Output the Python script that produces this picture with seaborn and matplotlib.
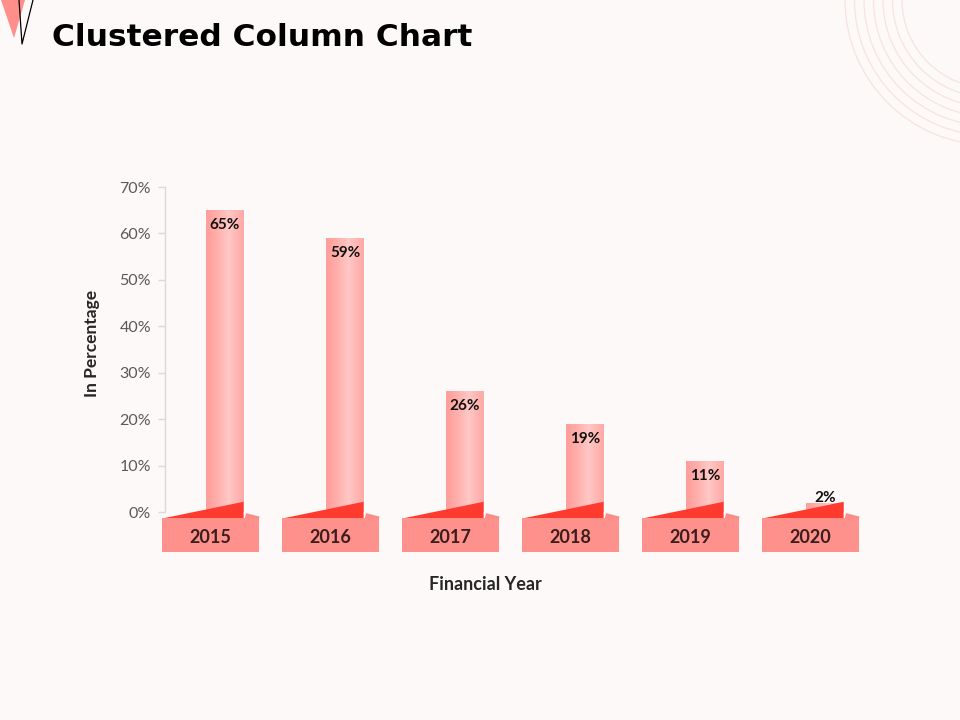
import numpy as np
import pandas as pd
import matplotlib
matplotlib.use("Agg")
import matplotlib.pyplot as plt
from matplotlib.patches import Polygon, Arc
from matplotlib.colors import to_rgb
import seaborn as sns

# ---- data ----
years = ["2015", "2016", "2017", "2018", "2019", "2020"]
values = [65, 59, 26, 19, 11, 2]
ytick_vals = [0, 10, 20, 30, 40, 50, 60, 70]

BG = "#FDF9F8"
sns.set_theme(style="white")
plt.rcParams['font.family'] = ['Lato', 'DejaVu Sans']

fig = plt.figure(figsize=(9.6, 7.2), dpi=100, facecolor=BG)
ax = fig.add_axes([165/960, (720-512)/720, 720/960, 325/720])
ax.set_facecolor(BG)

df = pd.DataFrame({"year": years, "value": values})
sns.barplot(data=df, x="year", y="value", color="#FFA9A5", width=0.31,
            saturation=1, ax=ax, zorder=2)

ax.set_ylim(0, 70)
ax.set_xlim(-0.5, 5.5)

# gradient on bars
c_edge = np.array(to_rgb("#FF9D99"))
c_hi = np.array(to_rgb("#FFC8C5"))
t = np.linspace(0, 1, 200)
w = np.clip(1 - np.abs(t - 0.6) / 0.6, 0, 1) ** 1.2
grad = (c_edge[None, :] * (1 - w[:, None]) + c_hi[None, :] * w[:, None])[None, :, :]
for p in list(ax.patches):
    x0, y0 = p.get_x(), p.get_y()
    im = ax.imshow(grad, extent=[x0, x0 + p.get_width(), y0, y0 + p.get_height()],
                   aspect="auto", zorder=2.5, interpolation="bilinear")
    im.set_clip_path(p)
ax.set_ylim(0, 70)
ax.set_xlim(-0.5, 5.5)

# value labels
for i, v in enumerate(values):
    ypos = v - 3.2 if v >= 5 else v + 1.0
    ax.text(i, ypos, f"{v}%", ha="center", va="center", fontsize=11,
            fontweight="bold", color="#111111", zorder=5)

# ribbons under each column
half = 0.31 / 2
for i, yr in enumerate(years):
    br = i + half
    rl = i - 0.529
    rr = i + 0.287
    top, bot = -1.3, -8.7
    rect = Polygon([(rl, top), (rr, top), (rr, bot), (rl, bot)], closed=True,
                   facecolor="#FF918D", edgecolor="none", clip_on=False, zorder=3)
    ax.add_patch(rect)
    flap = Polygon([(br + 0.012, top), (br + 0.02, -0.25), (rr, -1.0), (rr, top)],
                   closed=True, facecolor="#FA8A85", edgecolor="none",
                   clip_on=False, zorder=3)
    ax.add_patch(flap)
    tri = Polygon([(rl + 0.025, top), (br, 2.2), (br, top)], closed=True,
                  facecolor="#FF3B30", edgecolor="none", clip_on=False, zorder=4)
    ax.add_patch(tri)
    ax.text(i - 0.121, -5.4, yr, ha="center", va="center",
            fontsize=13, fontweight="bold", color="#3A1E1E", zorder=5,
            clip_on=False)

# axes styling
sns.despine(ax=ax, bottom=True)
ax.spines["left"].set_color("#D9D9D9")
ax.spines["left"].set_linewidth(1)
ax.set_yticks(ytick_vals)
ax.set_yticklabels([f"{v}%" for v in ytick_vals])
ax.tick_params(axis="y", left=True, length=5, width=1, color="#D9D9D9",
               labelsize=11.5, labelcolor="#595959", pad=5)
ax.tick_params(axis="x", bottom=False, labelbottom=False)
ax.set_xlabel("")
ax.set_ylabel("")

fig.text(92/960, 1 - 343/720, "In Percentage", rotation=90, ha="center",
         va="center", fontsize=12.5, fontweight="bold", color="#262626")
fig.text(485/960, 1 - 585/720, "Financial Year", ha="center", va="center",
         fontsize=13, fontweight="bold", color="#262626")

# title: scale to reference width
title = fig.text(52/960, 1 - 37/720, "Clustered Column Chart", ha="left",
                 va="center", fontsize=24, fontweight="bold", color="#000000",
                 family=["DejaVu Sans"])
fig.canvas.draw()
tw = title.get_window_extent().width
title.set_fontsize(24 * 421 / tw)

# decorations (figure pixel coords)
deco = fig.add_axes([0, 0, 1, 1], zorder=-1)
deco.set_xlim(0, 960)
deco.set_ylim(720, 0)
deco.axis("off")
deco.patch.set_alpha(0)
deco.add_patch(Polygon([(1, 0), (25, 0), (14, 38)], closed=True,
                       facecolor="#FF8F8A", edgecolor="none"))
deco.plot([19, 22, 33], [0, 44, 0], color="#000000", lw=0.9)
for r in np.arange(88, 150, 9.5):
    deco.add_patch(Arc((990, 0), 2 * r, 2 * r, theta1=0, theta2=360,
                       edgecolor="#F6E3E0", lw=0.9))

fig.savefig("out.png", dpi=100, facecolor=BG)
